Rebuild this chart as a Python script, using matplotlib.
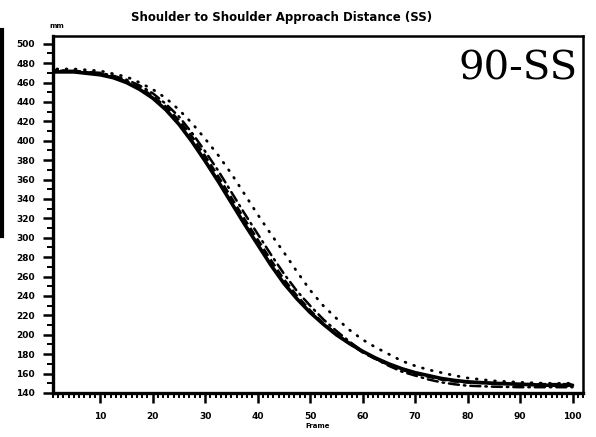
import numpy as np
import matplotlib
matplotlib.use("Agg")
import matplotlib.pyplot as plt
from matplotlib.ticker import MultipleLocator
from matplotlib.lines import Line2D

# frames
frames = [0, 5, 10, 12.5, 15, 17.5, 20, 22.5, 25, 27.5, 30, 32.5, 35, 37.5, 40, 42.5, 45,
          47.5, 50, 52.5, 55, 57.5, 60, 62.5, 65, 67.5, 70, 72.5, 75, 77.5, 80, 85, 90, 95, 100]

solid = [471, 471, 468, 465, 460, 453, 444, 432, 417, 399, 379, 358, 336, 314, 293, 272, 253,
         237, 223, 211, 200, 191, 183, 176, 170, 165, 161, 158, 155, 153, 151.5, 150, 149, 148, 148]
dashed = [472, 472, 469, 466, 461, 455, 446, 435, 421, 404, 384, 363, 341, 319, 298, 277, 257,
          240, 225, 212, 201, 191, 182, 175, 169, 164, 160, 157, 154, 152, 151, 150, 149, 149, 149]
dashdot = [473, 472, 470, 467, 463, 457, 449, 438, 425, 408, 389, 369, 347, 325, 304, 283, 263,
           245, 230, 216, 204, 193, 183, 175, 168, 162, 158, 154, 151, 149, 147.5, 146.5, 146, 146, 146]
dotted = [474, 474, 472, 469, 466, 460, 453, 444, 432, 418, 402, 385, 366, 345, 324, 304, 285,
          265, 246, 230, 217, 205, 195, 187, 180, 173, 168, 164, 161, 158, 155.5, 152.5, 151, 150, 150]

y_ticks = list(range(140, 501, 20))
x_ticks = list(range(10, 101, 10))

fig = plt.figure(figsize=(5.96, 4.37), dpi=100)
ax = fig.add_axes([53 / 596, 1 - 393 / 437, (583 - 53) / 596, (393 - 36) / 437])

ax.plot(frames, solid, color='black', lw=2.6, solid_capstyle='round', solid_joinstyle='round')
ax.plot(frames, dashed, color='black', lw=2.0, linestyle=(0, (3, 1.5)))
ax.plot(frames, dashdot, color='black', lw=1.8, linestyle=(0, (4, 2, 0.6, 2)), dash_capstyle='round')
ax.plot(frames, dotted, color='black', lw=2.0, linestyle=(0, (0.3, 3)), dash_capstyle='round')

ax.set_xlim(1, 102)
ax.set_ylim(140, 508)

ax.set_xticks(x_ticks)
ax.set_xticklabels([str(v) for v in x_ticks])
ax.xaxis.set_minor_locator(MultipleLocator(1))
ax.set_yticks(y_ticks)
ax.set_yticklabels([str(v) for v in y_ticks])
ax.yaxis.set_minor_locator(MultipleLocator(10))

ax.tick_params(axis='x', which='major', direction='out', length=7, width=1.8,
               labelsize=6.5, pad=7, top=False)
ax.tick_params(axis='x', which='minor', direction='out', length=3.5, width=1.4, top=False)
ax.tick_params(axis='y', which='major', direction='out', length=7, width=1.8,
               labelsize=6.5, pad=6, right=False)
ax.tick_params(axis='y', which='minor', direction='out', length=4, width=1.4, right=False)
for lab in ax.get_xticklabels() + ax.get_yticklabels():
    lab.set_fontweight('bold')

for side in ['left', 'bottom']:
    ax.spines[side].set_linewidth(2.4)
for side in ['top', 'right']:
    ax.spines[side].set_linewidth(1.8)

ax.set_xlabel("Frame", fontsize=5, fontweight='bold', labelpad=1)
fig.text(57 / 596, 1 - 26 / 437, "mm", fontsize=5, fontweight='bold', ha='center', va='center')

fig.text(282 / 596, 1 - 17 / 437, "Shoulder to Shoulder Approach Distance (SS)",
         fontsize=8.5, fontweight='bold', ha='center', va='center')

ax.text(0.99, 0.96, "90-SS", transform=ax.transAxes, family='DejaVu Serif',
        fontsize=29, ha='right', va='top')

# scan edge on the left
fig.add_artist(Line2D([2 / 596, 2 / 596], [1 - 30 / 437, 1 - 236 / 437],
                      color='black', lw=3, transform=fig.transFigure))

fig.savefig("out.png", dpi=100)
